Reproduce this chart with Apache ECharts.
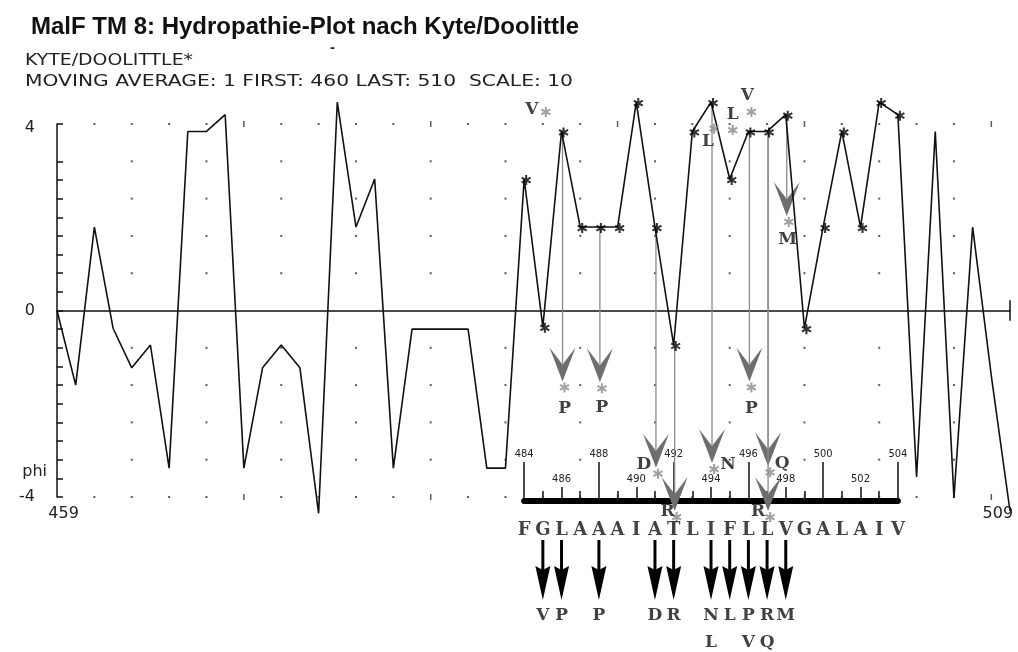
<!DOCTYPE html>
<html><head><meta charset="utf-8">
<script src="https://cdn.jsdelivr.net/npm/echarts@6/dist/echarts.min.js"></script>
<style>html,body{margin:0;padding:0;background:#fff}#c{width:1018px;height:652px}</style>
</head><body><div id="c"></div>
<script>
// ---------------- data ----------------
const titleText = 'MalF TM 8: Hydropathie-Plot nach Kyte/Doolittle';
const headerLine1 = 'KYTE/DOOLITTLE*';
const headerLine2 = 'MOVING AVERAGE: 1 FIRST: 460 LAST: 510  SCALE: 10';

const firstResidue = 459;
const lastResidue = 510;
// hydropathy per residue 459..510
const hydropathy = [
  0, -1.6, 1.79, -0.38, -1.23, -0.74, -3.38, 3.84, 3.84, 4.2,
  -3.38, -1.23, -0.74, -1.23, -4.35, 4.47, 1.79, 2.82, -3.38, -0.4,
  -0.4, -0.4, -0.4, -3.38, -3.38, 2.82, -0.35, 3.84, 1.79, 1.79,
  1.79, 4.47, 1.79, -0.74, 3.84, 4.47, 2.82, 3.84, 3.84, 4.2,
  -0.38, 1.79, 3.84, 1.79, 4.47, 4.2, -3.57, 3.84, -4.02, 1.79,
  -1.4, -4.3
];

const yTickLabels = ['4', 'pho', '0', 'phi', '-4'];
const yTickLabelValues = [3.92, 3.6, 0, -3.45, -4];
const xTickLabels = ['459', '509'];
const xTickLabelValues = [459.35, 509.35];

const segmentStart = 484;
const segmentSequence = ['F','G','L','A','A','A','I','A','T','L','I','F','L','L','V','G','A','L','A','I','V'];

const rulerMajor = [484, 488, 492, 496, 500, 504];
const rulerMid = [486, 490, 494, 498, 502];
const rulerMinor = [485, 487, 489, 491, 493, 495, 497, 499, 501, 503];

// mutations drawn with a grey arrow from the wild-type value
const arrowMutResidues = [486, 488, 491, 492, 494, 496, 497, 497, 498];
const arrowMutValues   = [-1.65, -1.67, -3.5, -4.43, -3.4, -1.65, -3.47, -4.43, 1.9];
const arrowMutLetters  = ['P', 'P', 'D', 'R', 'N', 'P', 'Q', 'R', 'M'];
// mutations marked only with a grey star
const plainMutResidues = [485, 494, 495, 496];
const plainMutValues   = [4.26, 3.9, 3.87, 4.26];
const plainMutLetters  = ['V', 'L', 'L', 'V'];

// bottom list of substitutions
const bottomArrowResidues = [485, 486, 488, 491, 492, 494, 495, 496, 497, 498];
const bottomLetters1 = ['V', 'P', 'P', 'D', 'R', 'N', 'L', 'P', 'R', 'M'];
const bottomLetters2Residues = [494, 496, 497];
const bottomLetters2 = ['L', 'V', 'Q'];

// dotted grid of the original plot
const innerDotRows = [3.2, 2.4, 1.6, 0.8, -0.8, -1.6, -2.4, -3.2];
const innerDotCols = [463, 467, 471, 475, 479, 483, 487, 491, 495, 499, 503, 507];
const edgeDotRows = [4, -4];
const edgeDotCols = [461, 463, 465, 467, 471, 473, 475, 477, 481, 483, 485, 487, 491, 493, 495, 497, 501, 503, 505, 507];
const tensCols = [469, 479, 489, 499, 509];

// ---------------- layout / style ----------------
const PLOT_LEFT = 57, PLOT_WIDTH = 953, PLOT_TOP = 124, PLOT_HEIGHT = 373;
const UNIT = PLOT_WIDTH / (lastResidue - firstResidue);
const ROW_SEQ = 90, ROW_ARROW_TOP = 100, ROW_ARROW_TIP = 160, ROW_MUT1 = 176, ROW_MUT2 = 203;
const STAR = 'path://M-1,-5L1,-5L1,5L-1,5Z M3.83,3.366L-4.83,-1.634L-3.83,-3.366L4.83,1.634Z M-4.83,1.634L3.83,-3.366L4.83,-1.634L-3.83,3.366Z';
const LETTER_FONT = {fontFamily: "'DejaVu Serif'", fontWeight: 'bold', fontSize: 17, color: '#111'};
const SMALL_FONT = "'DejaVu Sans Condensed', 'DejaVu Sans'";
const BITMAP_FONT = "'DejaVu Sans'";
const HEADER_FONT = '16px ' + BITMAP_FONT;
const arrowLabelOffsets = [[0, 21], [0, 19], [-14, -9], [-9, -5], [14, -4], [0, 21], [12, -9], [-12, -5], [-1, 18]];
const plainLabelOffsets = [[-14, -2], [-6, 13], [0, -15], [-4, -16]];

const mainData = hydropathy.map((v, i) => [firstResidue + i, v]);
const starData = segmentSequence.map((c, i) => [segmentStart + i, hydropathy[segmentStart + i - firstResidue]]);

const dots = [];
innerDotRows.forEach(r => innerDotCols.forEach(c => dots.push([c, r])));
edgeDotRows.forEach(r => edgeDotCols.forEach(c => dots.push([c, r])));
const tens = [];
edgeDotRows.forEach(r => tensCols.forEach(c => tens.push([c, r])));

const greyStarData = [];
arrowMutResidues.forEach((r, i) => greyStarData.push({value: [r, arrowMutValues[i]], name: arrowMutLetters[i], label: {offset: arrowLabelOffsets[i]}}));
plainMutResidues.forEach((r, i) => greyStarData.push({value: [r, plainMutValues[i]], name: plainMutLetters[i], label: {offset: plainLabelOffsets[i]}}));

const rulerLeft = PLOT_LEFT + (rulerMajor[0] - firstResidue) * UNIT;
const rulerWidth = (rulerMajor[rulerMajor.length - 1] - rulerMajor[0]) * UNIT;

const measureCtx = document.createElement('canvas').getContext('2d');
measureCtx.font = HEADER_FONT;
function headerText(t, x, y, targetWidth) {
  const w = measureCtx.measureText(t).width || 1;
  return {type: 'text', x: x, y: y, scaleX: targetWidth / w,
          style: {text: t, font: HEADER_FONT, fill: '#222', verticalAlign: 'middle'}};
}

function rulerAxis(ticks, len, labelMargin, showLine) {
  return {
    type: 'value', gridIndex: 2, min: rulerMajor[0], max: rulerMajor[rulerMajor.length - 1],
    position: 'bottom', axisLine: {show: showLine, onZero: false, lineStyle: {color: '#000', width: 6}},
    axisTick: {show: true, inside: true, length: len, customValues: ticks, lineStyle: {color: '#111', width: 1.5}},
    axisLabel: labelMargin == null ? {show: false} : {
      show: true, inside: true, margin: labelMargin, customValues: ticks, hideOverlap: false,
      fontSize: 11, fontFamily: SMALL_FONT, color: '#222', formatter: v => String(v)
    },
    splitLine: {show: false}
  };
}

const option = {
  backgroundColor: '#fff',
  animation: false,
  title: {
    text: titleText, left: 26, top: 10,
    textStyle: {fontFamily: 'Liberation Sans', fontWeight: 'bold', fontSize: 24, color: '#111'}
  },
  graphic: [
    headerText(headerLine1, 25, 61, 168),
    headerText(headerLine2, 25, 82, 548),
    {type: 'text', x: 330, y: 49, style: {text: '-', font: 'bold 12px ' + BITMAP_FONT, fill: '#222', verticalAlign: 'middle'}}
  ],
  grid: [
    {left: PLOT_LEFT, top: PLOT_TOP, width: PLOT_WIDTH, height: PLOT_HEIGHT},
    {left: PLOT_LEFT, top: 440, width: PLOT_WIDTH, height: 212},
    {left: rulerLeft, top: 460, width: rulerWidth, height: 41}
  ],
  xAxis: [
    {type: 'value', gridIndex: 0, min: firstResidue, max: lastResidue,
     axisLine: {show: true, onZero: true, lineStyle: {color: '#111', width: 1.5}},
     axisTick: {show: false}, axisLabel: {show: false}, splitLine: {show: false}},
    {type: 'value', gridIndex: 0, min: firstResidue, max: lastResidue, position: 'bottom',
     axisLine: {show: false, onZero: false}, axisTick: {show: false}, splitLine: {show: false},
     axisLabel: {show: true, customValues: xTickLabelValues, margin: 9, fontSize: 16, fontFamily: BITMAP_FONT, color: '#222',
       hideOverlap: false, formatter: v => xTickLabels[xTickLabelValues.indexOf(v)]}},
    {type: 'value', gridIndex: 1, min: firstResidue, max: lastResidue, show: false},
    rulerAxis(rulerMajor, 39, 41, true),
    rulerAxis(rulerMid, 14, 16, false),
    rulerAxis(rulerMinor, 10, null, false)
  ],
  yAxis: [
    {type: 'value', gridIndex: 0, min: -4, max: 4, interval: 0.4,
     axisLine: {show: true, lineStyle: {color: '#111', width: 1.5}},
     axisTick: {show: true, inside: true, length: 6, lineStyle: {color: '#111', width: 1.5}},
     splitLine: {show: false},
     axisLabel: {show: true, customValues: yTickLabelValues, margin: 10, fontSize: 16, fontFamily: BITMAP_FONT, color: '#222',
       hideOverlap: false, showMaxLabel: true, showMinLabel: true,
       formatter: v => {
         const t = yTickLabels[yTickLabelValues.indexOf(v)];
         return /[a-z]/.test(t) ? '{w|' + t + '}' : '{n|' + t + '}';
       },
       rich: {n: {padding: [0, 12, 0, 0], fontSize: 16, fontFamily: BITMAP_FONT, color: '#222'},
              w: {fontSize: 16, fontFamily: BITMAP_FONT, color: '#222'}}}},
    {type: 'value', gridIndex: 1, min: 0, max: 212, inverse: true, show: false},
    {type: 'value', gridIndex: 2, min: 0, max: 1, show: false}
  ],
  series: [
    {type: 'scatter', xAxisIndex: 0, yAxisIndex: 0, data: dots, symbol: 'rect', symbolSize: 2,
     itemStyle: {color: '#333'}, silent: true, z: 1},
    {type: 'scatter', xAxisIndex: 0, yAxisIndex: 0, data: tens, symbol: 'rect', symbolSize: [1.5, 6],
     itemStyle: {color: '#333'}, silent: true, z: 1},
    {type: 'line', xAxisIndex: 0, yAxisIndex: 0, data: mainData, symbol: 'none', clip: false, z: 4,
     lineStyle: {color: '#111', width: 1.6}, silent: true,
     markLine: {silent: true, symbol: 'none', label: {show: false}, lineStyle: {color: '#111', width: 1.5, type: 'solid'},
       data: [[{coord: [firstResidue - 0.5, 0]}, {coord: [firstResidue, 0]}],
              [{coord: [lastResidue, -0.22]}, {coord: [lastResidue, 0.22]}]]}},
    {type: 'custom', xAxisIndex: 0, yAxisIndex: 0, clip: false, silent: true, z: 3,
     data: arrowMutResidues.map((r, i) => [r, hydropathy[r - firstResidue], arrowMutValues[i]]),
     encode: {x: 0, y: [1, 2]},
     renderItem: (params, api) => {
       const r = api.value(0);
       const a = api.coord([r, api.value(1)]);
       const s = api.coord([r, api.value(2)]);
       const tx = s[0] + 1, ty = s[1] - 6;
       return {type: 'group', children: [
         {type: 'line', shape: {x1: tx, y1: a[1], x2: tx, y2: ty - 18}, style: {stroke: '#8a8a8a', lineWidth: 1.3}},
         {type: 'polygon', shape: {points: [[tx - 13, ty - 34], [tx, ty - 17], [tx + 13, ty - 34], [tx, ty]]}, style: {fill: '#6e6e6e'}}
       ]};
     }},
    {type: 'scatter', xAxisIndex: 0, yAxisIndex: 0, data: starData, symbol: STAR, symbolSize: 10,
     symbolOffset: [2, 1], itemStyle: {color: '#000'}, clip: false, silent: true, z: 6},
    {type: 'scatter', xAxisIndex: 0, yAxisIndex: 0, data: greyStarData, symbol: STAR, symbolSize: 10,
     symbolOffset: [3, 0], itemStyle: {color: '#8a8a8a'}, clip: false, silent: true, z: 6,
     label: Object.assign({show: true, position: 'inside', formatter: p => p.name}, LETTER_FONT)},
    {type: 'scatter', xAxisIndex: 2, yAxisIndex: 1, clip: false, silent: true, z: 6,
     data: segmentSequence.map((c, i) => ({value: [segmentStart + i, ROW_SEQ], name: c})),
     symbolSize: 1, itemStyle: {color: 'rgba(0,0,0,0)'},
     label: Object.assign({show: true, position: 'inside', formatter: p => p.name}, LETTER_FONT, {fontSize: 18})},
    {type: 'custom', xAxisIndex: 2, yAxisIndex: 1, clip: false, silent: true, z: 5,
     data: bottomArrowResidues.map(r => [r, ROW_ARROW_TIP]),
     encode: {x: 0, y: 1},
     renderItem: (params, api) => {
       const r = api.value(0);
       const top = api.coord([r, ROW_ARROW_TOP]);
       const tip = api.coord([r, ROW_ARROW_TIP]);
       const x = top[0];
       return {type: 'group', children: [
         {type: 'rect', shape: {x: x - 1.5, y: top[1], width: 3, height: tip[1] - top[1] - 30}, style: {fill: '#000'}},
         {type: 'polygon', shape: {points: [[x - 7.5, tip[1] - 34], [x, tip[1] - 30], [x + 7.5, tip[1] - 34], [x, tip[1]]]}, style: {fill: '#000'}}
       ]};
     }},
    {type: 'scatter', xAxisIndex: 2, yAxisIndex: 1, clip: false, silent: true, z: 6,
     data: bottomArrowResidues.map((r, i) => ({value: [r, ROW_MUT1], name: bottomLetters1[i]}))
       .concat(bottomLetters2Residues.map((r, i) => ({value: [r, ROW_MUT2], name: bottomLetters2[i]}))),
     symbolSize: 1, itemStyle: {color: 'rgba(0,0,0,0)'},
     label: Object.assign({show: true, position: 'inside', formatter: p => p.name}, LETTER_FONT)}
  ]
};

const chart = echarts.init(document.getElementById('c'));
chart.setOption(option);
</script>
</body></html>
